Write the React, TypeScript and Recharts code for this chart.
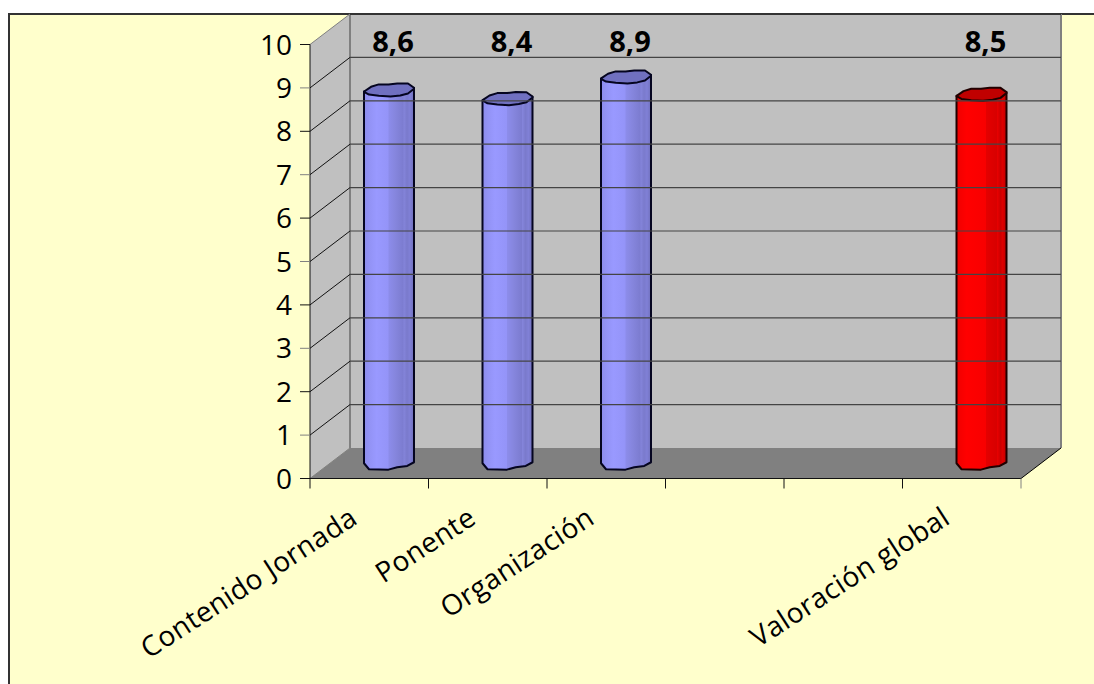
import { Bar, BarChart, LabelList, XAxis, YAxis } from "recharts";

const categories = ["Contenido Jornada", "Ponente", "Organización", "", "", "Valoración global"];
const scores = [8.6, 8.4, 8.9, null, null, 8.5];
const yTicks = [0, 1, 2, 3, 4, 5, 6, 7, 8, 9, 10];
const highlighted = "Valoración global";

const rows = categories.map((label, i) => ({ label, score: scores[i] }));

// plot box of the front plane, the "3d" box is pushed back by DEPTH_X / DEPTH_Y
const CHART_W = 1094;
const CHART_H = 684;
const LEFT = 310;
const RIGHT = 1021;
const TOP = 44.5;
const BOTTOM = 478.5;
const DEPTH_X = 40;
const DEPTH_Y = 30.5;

const tickFont = "'Open Sans', sans-serif";

// rough low-poly outline of the cylinder ends: [share of radius, px from centre]
const capOutline = [
  [-0.98, 1.2], [-0.72, -3.2], [-0.41, -5.6], [-0.02, -5.6], [0.33, -6.6], [0.76, -6.5], [1, -2.2],
  [1, -1.2], [0.76, 3.5], [0.45, 5.4], [0.06, 6.5], [-0.41, 5.8], [-0.8, 4.6], [-1, 1.8],
];
const baseOutline = [[-1, 0], [-0.8, 6], [-0.02, 6.4], [0.33, 4], [0.73, 2.7], [1, -1]];

const blueStops = [
  [0, "#8c8cec"], [0.12, "#9393f6"], [0.25, "#9999ff"], [0.48, "#9494f8"], [0.5, "#8c8cea"],
  [0.62, "#8686de"], [0.78, "#7c7cd0"], [0.8, "#8484da"], [0.86, "#7a7acc"], [0.92, "#8080d6"], [1, "#7070bc"],
];
const redStops = [
  [0, "#f00000"], [0.2, "#ff0000"], [0.58, "#f80000"], [0.6, "#e40000"], [0.8, "#d80000"],
  [0.82, "#e60000"], [0.88, "#cc0000"], [0.92, "#de0000"], [1, "#c00000"],
];

function Walls() {
  const bx = LEFT + DEPTH_X;
  const bxr = RIGHT + DEPTH_X;
  const by = TOP - DEPTH_Y;
  const byb = BOTTOM - DEPTH_Y;
  return (
    <g>
      <polygon points={`${LEFT},${TOP} ${bx},${by} ${bx},${byb} ${LEFT},${BOTTOM}`} fill="#c0c0c0" />
      <rect x={bx} y={by} width={bxr - bx} height={byb - by} fill="#c0c0c0" />
      <polygon points={`${LEFT},${BOTTOM} ${bx},${byb} ${bxr},${byb} ${RIGHT},${BOTTOM}`} fill="#808080" />
      <line x1={bx} y1={by} x2={bx} y2={byb} stroke="#808080" strokeWidth={2} />
      <line x1={bxr} y1={by} x2={bxr} y2={byb} stroke="#808080" strokeWidth={2} />
      <line x1={LEFT} y1={TOP} x2={bx} y2={by} stroke="#808080" />
      <line x1={LEFT} y1={BOTTOM} x2={bx} y2={byb} stroke="#808080" />
      <line x1={bx} y1={by} x2={bxr} y2={by} stroke="#333" strokeWidth={2} />
      <line x1={RIGHT} y1={BOTTOM} x2={bxr} y2={byb} stroke="#000" />
    </g>
  );
}

function YTick({ x, y, payload }: any) {
  const v = payload.value;
  return (
    <g>
      {v > 0 && v < 10 ? (
        <>
          <line x1={LEFT} y1={y} x2={LEFT + DEPTH_X} y2={y - DEPTH_Y} stroke="#111" />
          <line x1={LEFT + DEPTH_X} y1={y - DEPTH_Y} x2={RIGHT + DEPTH_X} y2={y - DEPTH_Y} stroke="#444" strokeWidth={1.2} />
        </>
      ) : null}
      <line x1={LEFT - 10} y1={y} x2={LEFT} y2={y} stroke={v % 2 ? "#808080" : "#111"} />
      <text x={x - 10} y={y + 10} textAnchor="end" fontSize={28} fontFamily={tickFont} fill="#000">
        {v}
      </text>
    </g>
  );
}

function XTick({ x, y, payload, index }: any) {
  const band = (RIGHT - LEFT) / categories.length;
  const left = LEFT + band * index;
  const tx = x - 10;
  const ty = y + 36;
  return (
    <g>
      <line x1={left} y1={BOTTOM} x2={left} y2={BOTTOM + 10} stroke="#111" />
      {index === categories.length - 1 ? (
        <line x1={RIGHT} y1={BOTTOM} x2={RIGHT} y2={BOTTOM + 10} stroke="#808080" />
      ) : null}
      {payload.value ? (
        <text
          x={tx}
          y={ty}
          textAnchor="end"
          fontSize={28}
          letterSpacing={0.4}
          fontFamily={tickFont}
          fill="#000"
          transform={`rotate(-33 ${tx} ${ty})`}
        >
          {payload.value}
        </text>
      ) : null}
    </g>
  );
}

function Cylinder({ x, y, width, height, payload }: any) {
  if (!height) return null;
  const isRed = payload.label === highlighted;
  const cx = x + DEPTH_X / 2 + width / 2;
  const rx = width / 2;
  const top = y - DEPTH_Y / 2;
  const bot = top + height;
  const base = baseOutline.map(([dx, dy]) => `L${cx + dx * rx},${bot + dy}`).join(" ");
  const cap = capOutline.map(([dx, dy]) => `${cx + dx * rx},${top + dy}`).join(" ");
  return (
    <g stroke={isRed ? "#200000" : "#050520"} strokeWidth={2} strokeLinejoin="round">
      <path d={`M${cx - rx},${top + 1.5} ${base} L${cx + rx},${top - 2} Z`} fill={isRed ? "url(#redCyl)" : "url(#blueCyl)"} />
      <polygon points={cap} fill={isRed ? "#c00000" : "#7070c0"} />
    </g>
  );
}

function ValueLabel({ x, width, value }: any) {
  if (value == null) return null;
  return (
    <text
      x={x + width / 2 + 24}
      y={52}
      textAnchor="middle"
      fontSize={29}
      fontWeight="bold"
      fontFamily={tickFont}
      fill="#000"
    >
      {String(value).replace(".", ",")}
    </text>
  );
}

export default function App() {
  return (
    <div style={{ position: "absolute", left: 0, top: 0, width: CHART_W, height: CHART_H, overflow: "hidden", background: "#fff" }}>
      <div
        style={{
          position: "absolute",
          left: 8,
          top: 13,
          right: 0,
          bottom: 0,
          background: "#ffffcc",
          borderLeft: "2px solid #333",
          borderTop: "2px solid #333",
        }}
      />
      <div style={{ position: "absolute", left: 0, top: 0 }}>
        <BarChart
          width={CHART_W}
          height={CHART_H}
          data={rows}
          barSize={50}
          margin={{ top: TOP, right: CHART_W - RIGHT, bottom: CHART_H - BOTTOM - 100, left: LEFT - 60 }}
        >
          <defs>
            <linearGradient id="blueCyl" x1="0" y1="0" x2="1" y2="0">
              {blueStops.map(([o, c]) => (
                <stop key={o} offset={o} stopColor={c as string} />
              ))}
            </linearGradient>
            <linearGradient id="redCyl" x1="0" y1="0" x2="1" y2="0">
              {redStops.map(([o, c]) => (
                <stop key={o} offset={o} stopColor={c as string} />
              ))}
            </linearGradient>
          </defs>
          <Walls />
          <YAxis
            domain={[0, 10]}
            ticks={yTicks}
            interval={0}
            width={60}
            axisLine={{ stroke: "#111" }}
            tickLine={false}
            tick={<YTick />}
          />
          <XAxis
            dataKey="label"
            interval={0}
            height={100}
            axisLine={{ stroke: "#111" }}
            tickLine={false}
            tick={<XTick />}
          />
          <Bar dataKey="score" isAnimationActive={false} shape={<Cylinder />}>
            <LabelList dataKey="score" content={<ValueLabel />} />
          </Bar>
        </BarChart>
      </div>
    </div>
  );
}
